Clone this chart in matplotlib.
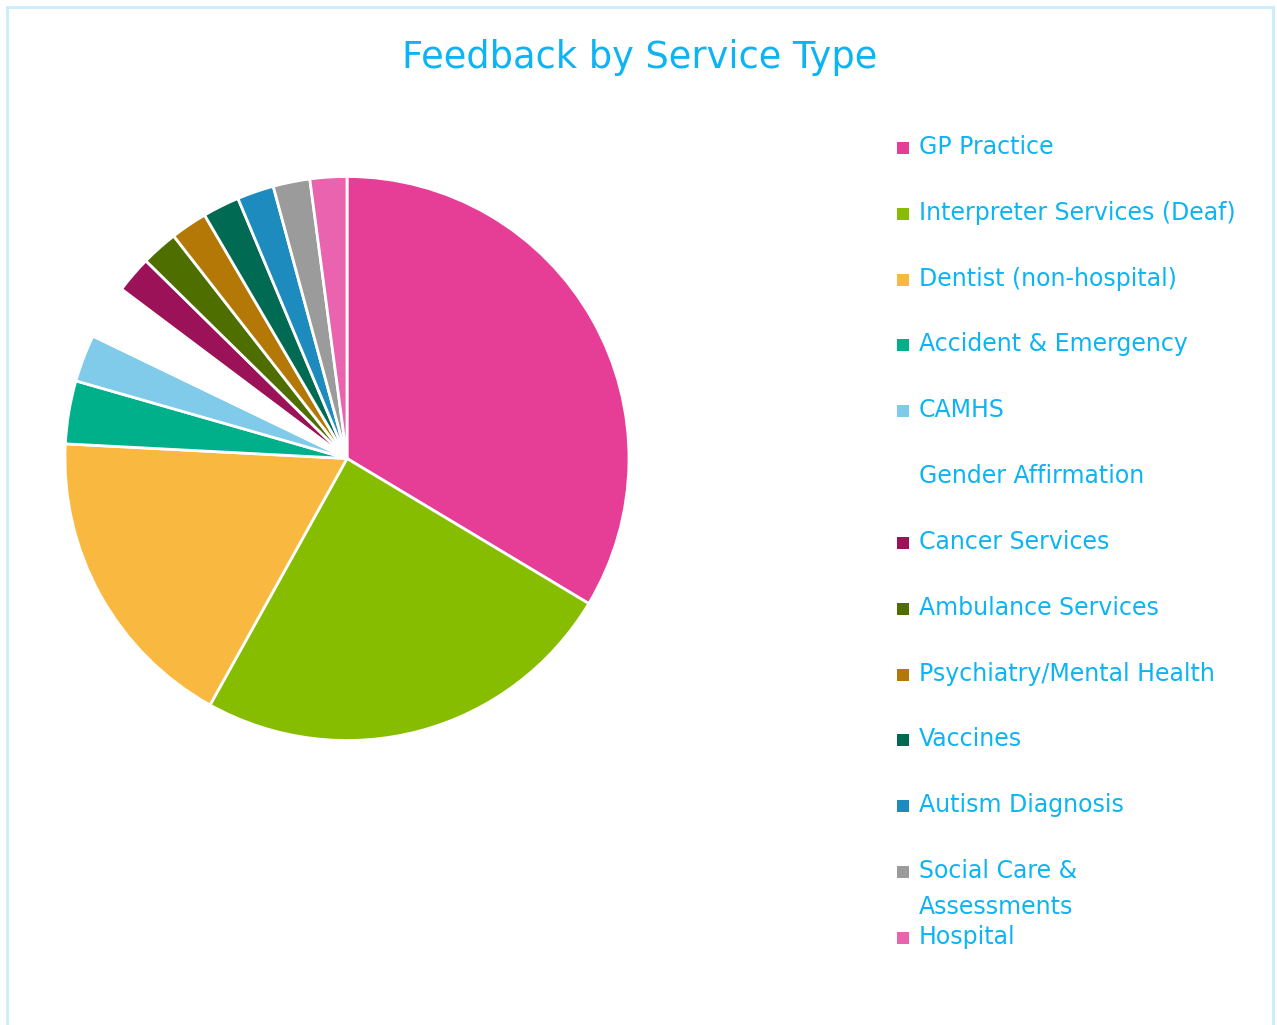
import matplotlib
matplotlib.use("Agg")
import matplotlib.pyplot as plt
from matplotlib.patches import Rectangle
from matplotlib.lines import Line2D

W, H = 1277, 1025

categories = [
    "GP Practice",
    "Interpreter Services (Deaf)",
    "Dentist (non-hospital)",
    "Accident & Emergency",
    "CAMHS",
    "Gender Affirmation",
    "Cancer Services",
    "Ambulance Services",
    "Psychiatry/Mental Health",
    "Vaccines",
    "Autism Diagnosis",
    "Social Care &\nAssessments",
    "Hospital",
]
values = [33.5, 24.4, 17.7, 3.6, 2.7, 3.1, 2.1, 2.1, 2.1, 2.1, 2.1, 2.1, 2.1]
colors = [
    "#E63E96", "#86BD00", "#F9B83F", "#00B08A", "#80CAEA", "#FFFFFF",
    "#9C1258", "#4E6E00", "#B47807", "#006B52", "#1E8BBE", "#9B9B9B", "#EA63AE",
]

TEXT = "#0DB4F3"
FONT = "DejaVu Sans"

fig = plt.figure(figsize=(W / 100, H / 100), dpi=100)
fig.patch.set_facecolor("white")

# border
bc = "#C9EDFB"
fig.add_artist(Line2D([7 / W, 7 / W], [0, 1 - 7 / H], transform=fig.transFigure, color=bc, lw=2))
fig.add_artist(Line2D([7 / W, 1273 / W], [1 - 7 / H, 1 - 7 / H], transform=fig.transFigure, color=bc, lw=2))
fig.add_artist(Line2D([1273 / W, 1273 / W], [0, 1 - 7 / H], transform=fig.transFigure, color=bc, lw=2))

# pie
cx, cy, r = 347, 458.5, 282
ax = fig.add_axes([(cx - r) / W, (H - cy - r) / H, 2 * r / W, 2 * r / H])
ax.pie(values, colors=colors, startangle=90, counterclock=False, radius=1,
       wedgeprops=dict(edgecolor="white", linewidth=2))
ax.set_xlim(-1.0, 1.0)
ax.set_ylim(-1.0, 1.0)
ax.set_aspect("equal")
ax.axis("off")

# title
fig.text(640 / W, 1 - 58 / H, "Feedback by Service Type", ha="center", va="center",
         color=TEXT, fontsize=26.5, family=FONT)

# legend
y0, dy = 147, 65.83
for i, (lab, col) in enumerate(zip(categories, colors)):
    y = y0 + dy * i
    fig.add_artist(Rectangle((897 / W, 1 - (y + 7) / H), 12 / W, 12 / H,
                             transform=fig.transFigure, facecolor=col, edgecolor="none"))
    for k, line in enumerate(lab.split("\n")):
        fig.text(919 / W, 1 - (y + 36 * k) / H, line, ha="left", va="center",
                 color=TEXT, fontsize=17, family=FONT)

fig.savefig("out.png", dpi=100, facecolor="white")
